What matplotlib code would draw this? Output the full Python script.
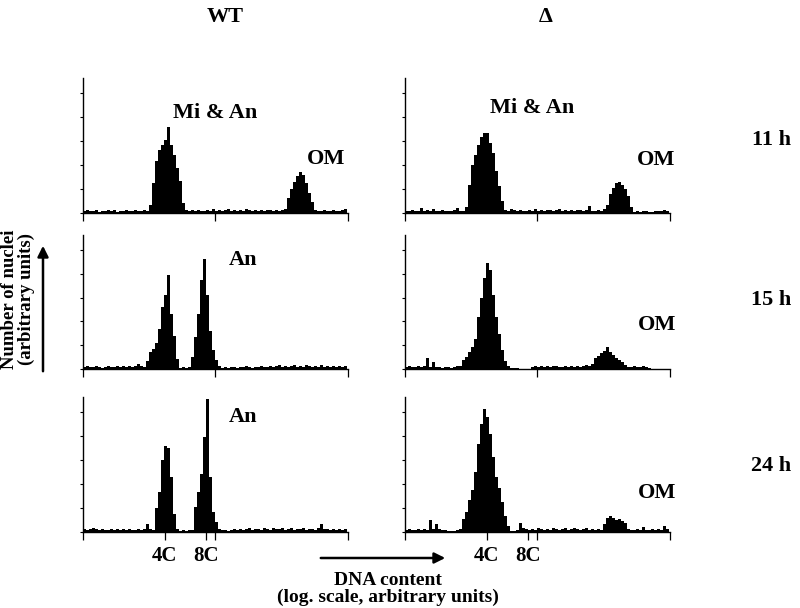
import matplotlib
matplotlib.use('Agg')
import matplotlib.pyplot as plt
import matplotlib.transforms as mtransforms
import numpy as np

# flow cytometry histograms, counts per channel bin (arbitrary units)
wt_11h = [2, 3, 2, 2, 3, 1, 2, 2, 3, 2, 3, 1, 2, 2, 3, 2, 2, 3, 2, 2, 3, 2,
          8, 30, 52, 63, 68, 73, 86, 68, 58, 45, 32, 10, 3,
          2, 3, 2, 3, 2, 2, 3, 2, 4, 2, 3, 2, 3, 4, 2, 3, 2, 3, 2, 4, 3, 2, 3, 2, 3, 2, 3, 3, 2, 3, 2, 3,
          4, 15, 24, 31, 37, 41, 38, 30, 20, 11, 3,
          2, 2, 3, 2, 2, 3, 2, 2, 3, 4]
del_11h = [2, 2, 3, 2, 2, 5, 2, 3, 2, 4, 2, 2, 3, 2, 2, 2, 3, 5, 2, 2,
           6, 28, 48, 58, 68, 76, 80, 80, 70, 60, 42, 27, 12, 3,
           2, 4, 3, 2, 3, 2, 2, 3, 2, 4, 2, 3, 2, 3, 3, 2, 3, 4, 2, 3, 2, 3, 2, 3, 3, 2, 3, 7, 2, 2, 3, 2, 4,
           8, 19, 25, 30, 31, 28, 24, 17, 6, 1,
           2, 1, 2, 2, 1, 1, 2, 2, 2, 3, 2]
wt_15h = [2, 3, 2, 2, 3, 2, 1, 2, 3, 2, 2, 3, 2, 3, 2, 3, 2, 3, 5, 3, 2,
          8, 17, 20, 26, 40, 62, 75, 95, 55, 33, 10,
          1, 2, 1, 2,
          12, 32, 55, 90, 111, 75, 38, 19, 9, 3,
          1, 2, 1, 2, 2, 1, 2, 2, 3, 2, 1, 2, 2, 3, 2, 2, 3, 2, 3, 4,
          2, 3, 2, 3, 4, 2, 3, 2, 4, 3, 2, 3, 2, 4, 2, 3, 2, 3, 2, 3, 2, 3]
del_15h = [2, 3, 2, 2, 3, 2, 3, 11, 2, 7, 2, 2, 1, 2, 2, 1, 2, 3,
           3, 9, 12, 17, 22, 30, 52, 72, 92, 107, 100, 75, 52, 35, 19, 8, 3, 1, 1, 1,
           0, 0, 0, 0,
           2, 3, 2, 3, 2, 3, 2, 3, 3, 2, 2, 3, 2, 3, 2, 3, 2, 3, 4, 3, 5,
           11, 13, 16, 18, 22, 17, 14, 11, 9, 7, 4,
           2, 2, 3, 2, 2, 3, 2, 1, 0, 0, 0, 0, 0, 0]
wt_24h = [3, 2, 3, 4, 3, 2, 3, 2, 2, 3, 2, 3, 2, 3, 2, 3, 2, 2, 3, 2, 3, 8, 3, 2,
          24, 40, 72, 86, 84, 55, 18, 3,
          1, 2, 1, 2, 2,
          25, 40, 58, 95, 133, 55, 20, 10, 3,
          2, 2, 1, 2, 3, 2, 3, 2, 3, 4, 2, 3, 3, 2, 4, 3, 2, 4, 3, 3,
          4, 2, 3, 4, 2, 3, 3, 4, 2, 3, 3, 2, 4, 8, 3, 3, 2, 3, 2, 3, 2, 3]
del_24h = [2, 3, 2, 2, 3, 2, 3, 2, 12, 3, 8, 3, 2, 2, 1, 1, 1, 2,
           3, 13, 20, 32, 42, 60, 88, 108, 123, 115, 98, 75, 55, 44, 30, 16, 6, 1,
           1, 2, 9, 4, 3, 2, 3, 2, 4, 3, 2, 3, 2, 4, 3, 2, 3, 4, 2, 3, 4, 3, 2, 3, 4, 2, 3, 2, 3, 2,
           8, 14, 16, 14, 12, 13, 11, 9, 3,
           2, 2, 3, 2, 5, 2, 2, 3, 2, 3, 2, 6, 3]

columns = ['WT', '\u0394']
times = ['11 h', '15 h', '24 h']
data = [[wt_11h, del_11h], [wt_15h, del_15h], [wt_24h, del_24h]]
c4_pos = 27.3
c8_pos = 41.0
n_bins = 88.33

W, H = 800, 608
def fx(px):
    return px / W
def fy(py):
    return 1 - py / H

FONT = dict(family='Liberation Serif', weight='bold', color='black')

fig = plt.figure(figsize=(8, 6.08), dpi=100)

col_left = [83, 405]
row_box = [(78, 213), (235, 369), (397, 532)]

for r in range(3):
    for c in range(2):
        top, bot = row_box[r]
        ax = fig.add_axes([fx(col_left[c]), fy(bot), 265 / W, (bot - top) / H])
        counts = data[r][c]
        ax.stairs(counts, np.arange(len(counts) + 1), fill=True,
                  color='black', linewidth=0)
        ax.set_xlim(0, n_bins)
        ax.set_ylim(0, 135)
        for s in ['top', 'right']:
            ax.spines[s].set_visible(False)
        ax.spines['left'].set_linewidth(1.0)
        ax.spines['bottom'].set_linewidth(1.0)
        ax.set_yticks(np.arange(0, 121, 24))
        ax.set_yticklabels([])
        ax.tick_params(axis='y', length=2.5, width=0.8)
        if r == 2:
            ax.set_xticks([0, c4_pos, c8_pos, 44, n_bins])
            ax.set_xticklabels(['', '4C', '8C', '', ''], fontsize=15,
                               fontfamily='Liberation Serif', fontweight='bold')
            off = mtransforms.ScaledTranslation(0.07, 0, fig.dpi_scale_trans)
            for lab in ax.get_xticklabels():
                lab.set_transform(lab.get_transform() + off)
            ax.tick_params(axis='x', length=6, width=0.9, pad=4)
        else:
            ax.set_xticks([0, 44, n_bins])
            ax.set_xticklabels([])
            ax.tick_params(axis='x', length=6, width=0.9)

# column and row titles
fig.text(fx(225), fy(17), columns[0], ha='center', va='center', fontsize=16, **FONT)
fig.text(fx(546), fy(17), columns[1], ha='center', va='center', fontsize=16, **FONT)
for t, yc in zip(times, [140, 300, 466]):
    fig.text(fx(771), fy(yc), t, ha='center', va='center', fontsize=16, **FONT)

# peak annotations
fig.text(fx(215), fy(113), 'Mi & An', ha='center', va='center', fontsize=16, **FONT)
fig.text(fx(326), fy(159), 'OM', ha='center', va='center', fontsize=16, **FONT)
fig.text(fx(532), fy(108), 'Mi & An', ha='center', va='center', fontsize=16, **FONT)
fig.text(fx(656), fy(160), 'OM', ha='center', va='center', fontsize=16, **FONT)
fig.text(fx(243), fy(260), 'An', ha='center', va='center', fontsize=16, **FONT)
fig.text(fx(657), fy(325), 'OM', ha='center', va='center', fontsize=16, **FONT)
fig.text(fx(243), fy(417), 'An', ha='center', va='center', fontsize=16, **FONT)
fig.text(fx(657), fy(493), 'OM', ha='center', va='center', fontsize=16, **FONT)

# axis captions with arrows
fig.text(fx(18), fy(299), 'Number of nuclei\n(arbitrary units)', rotation=90,
         ha='center', va='center', ma='center', linespacing=0.95, fontsize=13.5, **FONT)
fig.patches.append(matplotlib.patches.FancyArrowPatch(
    (fx(43), fy(374)), (fx(43), fy(243)), transform=fig.transFigure,
    arrowstyle='-|>', mutation_scale=16, linewidth=1.8, color='black'))
fig.patches.append(matplotlib.patches.FancyArrowPatch(
    (fx(318), fy(558)), (fx(448), fy(558)), transform=fig.transFigure,
    arrowstyle='-|>', mutation_scale=16, linewidth=1.8, color='black'))
fig.text(fx(388), fy(589), 'DNA content\n(log. scale, arbitrary units)', ha='center',
         va='center', ma='center', linespacing=0.95, fontsize=14, **FONT)

fig.savefig('out.png', dpi=100)
